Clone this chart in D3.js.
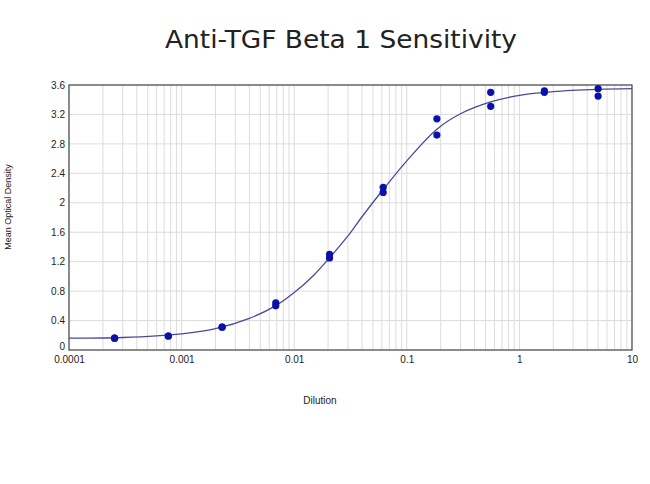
<!DOCTYPE html>
<html><head><meta charset="utf-8">
<script src="https://cdn.jsdelivr.net/npm/d3@7"></script>
<style>body{margin:0;background:#fff}</style>
</head><body>
<script>
// Data
const dilutions = [0.000254, 0.000762, 0.00229, 0.00686, 0.0206, 0.0617, 0.185, 0.556, 1.667, 5.0];
const rep1 = [0.16, 0.19, 0.31, 0.64, 1.30, 2.21, 3.14, 3.50, 3.52, 3.55];
const rep2 = [0.16, 0.19, 0.31, 0.60, 1.25, 2.14, 2.92, 3.31, 3.50, 3.45];
const curveX = [0.0001, 0.0003, 0.001, 0.002, 0.004, 0.007, 0.01, 0.015, 0.02, 0.03, 0.04, 0.0617, 0.1, 0.185, 0.3, 0.556, 1, 2, 5, 10];
const curveY = [0.16, 0.17, 0.22, 0.29, 0.43, 0.61, 0.78, 1.02, 1.23, 1.55, 1.81, 2.18, 2.57, 3.00, 3.21, 3.37, 3.46, 3.51, 3.54, 3.55];
const xTicks = [0.0001, 0.001, 0.01, 0.1, 1, 10];
const xTickLabels = ["0.0001", "0.001", "0.01", "0.1", "1", "10"];
const yTicks = [0, 0.4, 0.8, 1.2, 1.6, 2, 2.4, 2.8, 3.2, 3.6];
const yTickLabels = ["0", "0.4", "0.8", "1.2", "1.6", "2", "2.4", "2.8", "3.2", "3.6"];

const W = 650, H = 484;
const m = {left: 69, right: 18, top: 85, bottom: 134};
const svg = d3.select("body").append("svg").attr("width", W).attr("height", H);

const x = d3.scaleLog().domain([0.0001, 10]).range([m.left, W - m.right]);
const y = d3.scaleLinear().domain([0, 3.6]).range([H - m.bottom, m.top]);

// minor vertical grid
const minor = [];
for (let e = -4; e < 1; e++) for (let k = 1; k <= 9; k++) minor.push(k * Math.pow(10, e));
minor.push(10);
svg.append("g").selectAll("line").data(minor).join("line")
  .attr("x1", d => x(d)).attr("x2", d => x(d))
  .attr("y1", y(0)).attr("y2", y(3.6))
  .attr("stroke", "#dcdcdc").attr("stroke-width", 1);
// horizontal grid
svg.append("g").selectAll("line").data(yTicks).join("line")
  .attr("x1", x(0.0001)).attr("x2", x(10))
  .attr("y1", d => y(d)).attr("y2", d => y(d))
  .attr("stroke", "#dcdcdc").attr("stroke-width", 1);

// frame
svg.append("rect").attr("x", x(0.0001)).attr("y", y(3.6))
  .attr("width", x(10) - x(0.0001)).attr("height", y(0) - y(3.6))
  .attr("fill", "none").attr("stroke", "#4a4a4a").attr("stroke-width", 1.2);

// axes
const xAxis = d3.axisBottom(x).tickValues(xTicks).tickSize(0)
  .tickFormat((d, i) => xTickLabels[i]);
const gx = svg.append("g").attr("transform", `translate(0,${y(0)})`).call(xAxis);
gx.select(".domain").remove();
gx.selectAll("text").attr("dy", "1em").attr("font-family", "Liberation Sans, Arial, sans-serif")
  .attr("font-size", 10).attr("fill", "#222");

const yAxis = d3.axisLeft(y).tickValues(yTicks).tickSize(0)
  .tickFormat((d, i) => yTickLabels[i]);
const gy = svg.append("g").attr("transform", `translate(${x(0.0001)},0)`).call(yAxis);
gy.select(".domain").remove();
gy.selectAll("text").attr("x", -4).attr("font-family", "Liberation Sans, Arial, sans-serif")
  .attr("font-size", 10).attr("fill", "#222")
  .attr("dy", (d) => d === 0 ? "-0.05em" : "0.32em");

// curve
const line = d3.line().x(d => x(d[0])).y(d => y(d[1])).curve(d3.curveCatmullRom.alpha(0.5));
svg.append("path").datum(curveX.map((v, i) => [v, curveY[i]]))
  .attr("d", line).attr("fill", "none").attr("stroke", "#4a4a9a").attr("stroke-width", 1.3);

// points
const pts = dilutions.map((d, i) => [d, rep1[i]]).concat(dilutions.map((d, i) => [d, rep2[i]]));
svg.append("g").selectAll("circle").data(pts).join("circle")
  .attr("cx", d => x(d[0])).attr("cy", d => y(d[1])).attr("r", 3.6)
  .attr("fill", "#0a10a8");

// titles
svg.append("text").attr("x", 341).attr("y", 48).attr("text-anchor", "middle")
  .attr("font-family", "DejaVu Sans, Verdana, sans-serif").attr("font-size", 25)
  .attr("textLength", 352).attr("lengthAdjust", "spacingAndGlyphs")
  .attr("fill", "#222").text("Anti-TGF Beta 1 Sensitivity");
svg.append("text").attr("x", 320).attr("y", 404).attr("text-anchor", "middle")
  .attr("font-family", "Liberation Sans, Arial, sans-serif").attr("font-size", 10)
  .attr("fill", "#222").text("Dilution");
svg.append("text").attr("transform", "translate(11,207) rotate(-90)").attr("text-anchor", "middle")
  .attr("font-family", "Liberation Sans, Arial, sans-serif").attr("font-size", 9)
  .attr("fill", "#222").text("Mean Optical Density");
</script>
</body></html>
